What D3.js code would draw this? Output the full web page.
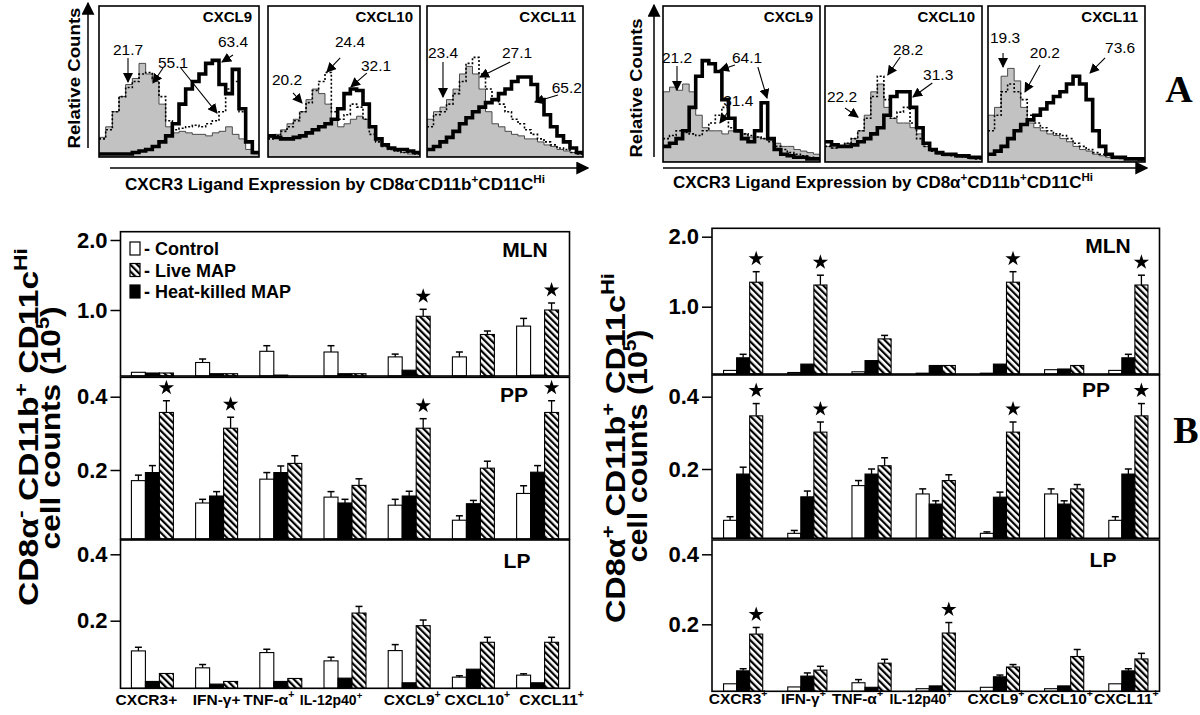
<!DOCTYPE html>
<html><head><meta charset="utf-8">
<script src="https://cdn.jsdelivr.net/npm/d3@7"></script>
<style>
body{margin:0;background:#fff}
svg{display:block;font-family:"Liberation Sans",Arial,Helvetica,sans-serif}
</style>
</head><body>
<svg id="c" width="1200" height="715"></svg>
<script>
// ================= DATA =================
// Panel A: histogram titles
const histTitles = ["CXCL9", "CXCL10", "CXCL11"];
// Panel A, CD8α− (left) histograms: relative counts per bin (24 bins)
const aL9Gray   = [0.13,0.2,0.3,0.4,0.48,0.52,0.62,0.55,0.5,0.35,0.2,0.16,0.17,0.16,0.15,0.15,0.14,0.16,0.17,0.2,0.15,0.12,0.05,0.02];
const aL9Dot    = [0.12,0.18,0.3,0.4,0.46,0.5,0.55,0.56,0.52,0.4,0.24,0.18,0.19,0.2,0.21,0.2,0.22,0.24,0.3,0.45,0.5,0.3,0.1,0.03];
const aL9Thick  = [0.02,0.02,0.02,0.02,0.02,0.03,0.04,0.05,0.07,0.1,0.14,0.22,0.35,0.45,0.5,0.55,0.62,0.64,0.48,0.42,0.58,0.32,0.1,0.03];
const aL10Gray  = [0.13,0.15,0.18,0.22,0.25,0.3,0.38,0.45,0.42,0.35,0.25,0.2,0.22,0.25,0.27,0.25,0.2,0.12,0.08,0.05,0.04,0.03,0.02,0.02];
const aL10Dot   = [0.12,0.14,0.17,0.2,0.24,0.3,0.36,0.44,0.5,0.56,0.3,0.25,0.28,0.35,0.33,0.25,0.15,0.1,0.07,0.05,0.04,0.03,0.03,0.02];
const aL10Thick = [0.14,0.13,0.12,0.12,0.13,0.14,0.16,0.18,0.2,0.22,0.25,0.32,0.42,0.45,0.44,0.35,0.2,0.12,0.08,0.06,0.05,0.05,0.04,0.03];
const aL11Gray  = [0.25,0.3,0.33,0.38,0.45,0.55,0.6,0.55,0.45,0.3,0.22,0.2,0.17,0.15,0.14,0.12,0.12,0.1,0.08,0.07,0.05,0.04,0.03,0.02];
const aL11Dot   = [0.2,0.28,0.3,0.35,0.42,0.5,0.62,0.66,0.55,0.45,0.38,0.35,0.3,0.25,0.22,0.18,0.15,0.12,0.1,0.08,0.06,0.05,0.03,0.02];
const aL11Thick = [0.05,0.07,0.1,0.13,0.17,0.22,0.26,0.3,0.33,0.36,0.38,0.42,0.45,0.5,0.53,0.53,0.48,0.38,0.28,0.2,0.14,0.1,0.06,0.03];
// Panel A, CD8α+ (right) histograms
const aR9Gray   = [0.45,0.48,0.46,0.5,0.45,0.3,0.22,0.2,0.2,0.18,0.2,0.19,0.18,0.16,0.16,0.15,0.14,0.12,0.1,0.1,0.08,0.07,0.06,0.05];
const aR9Dot    = [0.15,0.17,0.2,0.19,0.18,0.17,0.2,0.25,0.3,0.35,0.22,0.2,0.18,0.17,0.16,0.15,0.13,0.1,0.08,0.06,0.05,0.04,0.03,0.02];
const aR9Thick  = [0.1,0.12,0.15,0.2,0.35,0.55,0.65,0.63,0.58,0.4,0.28,0.2,0.15,0.13,0.2,0.38,0.15,0.08,0.05,0.04,0.03,0.03,0.02,0.02];
const aR10Gray  = [0.1,0.09,0.1,0.12,0.15,0.2,0.3,0.45,0.5,0.35,0.28,0.25,0.25,0.22,0.18,0.1,0.07,0.05,0.04,0.04,0.03,0.03,0.02,0.02];
const aR10Dot   = [0.1,0.09,0.1,0.12,0.15,0.2,0.28,0.42,0.55,0.4,0.28,0.32,0.35,0.25,0.15,0.1,0.07,0.06,0.05,0.04,0.04,0.03,0.03,0.02];
const aR10Thick = [0.13,0.11,0.1,0.1,0.11,0.13,0.15,0.18,0.22,0.3,0.42,0.45,0.45,0.35,0.22,0.12,0.08,0.06,0.05,0.05,0.04,0.04,0.03,0.03];
const aR11Gray  = [0.3,0.35,0.55,0.6,0.52,0.35,0.25,0.22,0.2,0.18,0.17,0.15,0.13,0.1,0.08,0.07,0.05,0.04,0.03,0.03,0.02,0.02,0.02,0.01];
const aR11Dot   = [0.2,0.3,0.45,0.5,0.45,0.4,0.3,0.25,0.22,0.2,0.18,0.17,0.15,0.12,0.1,0.08,0.06,0.05,0.04,0.03,0.03,0.02,0.02,0.01];
const aR11Thick = [0.05,0.07,0.1,0.15,0.2,0.24,0.27,0.3,0.34,0.38,0.42,0.45,0.5,0.55,0.5,0.4,0.2,0.1,0.05,0.03,0.03,0.02,0.02,0.02];
// Percent annotations: [text, textBin, textLevel, arrowFromBin, arrowFromLevel, arrowToBin, arrowToLevel]
const annL9  = [["21.7",4.35,0.71,4.35,0.656,4.35,0.497],["55.1",11.1,0.629,9.6,0.589,8.1,0.49],["",0,0,12.15,0.596,17.7,0.291],["63.4",20.1,0.762,20.1,0.675,18.45,0.629]];
const annL10 = [["20.2",3.0,0.51,3.95,0.424,5.37,0.358],["24.4",12.95,0.762,11.4,0.656,9.3,0.563],["32.1",17.05,0.603,15.6,0.556,13.1,0.464]];
const annL11 = [["23.4",2.46,0.689,2.46,0.629,2.46,0.397],["27.1",13.85,0.689,12.8,0.629,8.15,0.53],["65.2",21.5,0.457,20.15,0.41,16.6,0.364]];
const annR9  = [["21.2",2.14,0.667,2.14,0.615,2.14,0.462],["64.1",12.84,0.673,11.0,0.622,8.7,0.59],["",0,0,14.5,0.609,15.9,0.41],["31.4",11.5,0.397,9.8,0.314,8.7,0.25]];
const annR10 = [["22.2",2.6,0.417,3.06,0.346,5.05,0.288],["28.2",12.7,0.718,11.5,0.673,9.6,0.558],["31.3",17.3,0.558,16.4,0.506,13.45,0.417]];
const annR11 = [["19.3",2.6,0.801,2.3,0.699,2.3,0.609],["20.2",8.7,0.699,7.95,0.622,5.66,0.449],["73.6",20.2,0.731,17.9,0.667,15.6,0.571]];

// Panel B categories and tick labels
const cats = ["CXCR3","IFN-γ","TNF-α","IL-12p40","CXCL9","CXCL10","CXCL11"];
const leftCatBase  = ["CXCR3+","IFN-γ+","TNF-α","IL-12p40","CXCL9","CXCL10","CXCL11"];
const leftCatSup   = ["","","+","+","+","+","+"];
const rightCatBase = ["CXCR3","IFN-γ","TNF-α","IL-12p40","CXCL9","CXCL10","CXCL11"];
const rightCatSup  = ["+","+","+","+","+","+","+"];
const legendNames = ["Control","Live MAP","Heat-killed MAP"];
const panelNames = ["MLN","PP","LP"];
const mlnTicks = [1.0, 2.0];
const ppTicks  = [0.2, 0.4];
const lpTicks  = [0.2, 0.4];

// Left B: CD8α− CD11b+ CD11c-Hi (values ×10^5); *Err = top of error bar
const lMlnCtrl    = [0.11,0.25,0.41,0.40,0.33,0.33,0.77];
const lMlnCtrlErr = [0.11,0.30,0.49,0.49,0.37,0.40,0.88];
const lMlnHk      = [0.10,0.09,0.07,0.09,0.14,0.06,0.07];
const lMlnHkErr   = [0.10,0.09,0.07,0.09,0.14,0.06,0.07];
const lMlnLive    = [0.10,0.09,0.06,0.09,0.91,0.65,1.00];
const lMlnLiveErr = [0.10,0.09,0.06,0.09,1.01,0.70,1.10];
const lMlnStars   = [4,6];
const lPpCtrl     = [0.171,0.110,0.175,0.126,0.104,0.063,0.136];
const lPpCtrlErr  = [0.186,0.120,0.193,0.141,0.120,0.075,0.157];
const lPpHk       = [0.193,0.129,0.193,0.110,0.129,0.108,0.194];
const lPpHkErr    = [0.212,0.141,0.211,0.120,0.142,0.117,0.212];
const lPpLive     = [0.357,0.314,0.218,0.158,0.314,0.205,0.357];
const lPpLiveErr  = [0.389,0.344,0.239,0.176,0.340,0.224,0.389];
const lPpStars    = [0,1,4,6];
const lLpCtrl     = [0.109,0.058,0.104,0.079,0.110,0.030,0.036];
const lLpCtrlErr  = [0.120,0.068,0.114,0.090,0.128,0.034,0.040];
const lLpHk       = [0.017,0.009,0.017,0.027,0.013,0.054,0.013];
const lLpHkErr    = [0.017,0.009,0.017,0.027,0.013,0.054,0.013];
const lLpLive     = [0.041,0.017,0.026,0.223,0.185,0.135,0.135];
const lLpLiveErr  = [0.041,0.017,0.026,0.243,0.202,0.150,0.150];
const lLpStars    = [];

// Right B: CD8α+ CD11b+ CD11c-Hi
const rMlnCtrl    = [0.09,0.06,0.07,0.05,0.05,0.10,0.09];
const rMlnCtrlErr = [0.09,0.06,0.07,0.05,0.05,0.10,0.09];
const rMlnHk      = [0.27,0.18,0.23,0.16,0.18,0.11,0.27];
const rMlnHkErr   = [0.32,0.18,0.23,0.16,0.18,0.11,0.32];
const rMlnLive    = [1.35,1.31,0.54,0.16,1.35,0.16,1.31];
const rMlnLiveErr = [1.50,1.45,0.59,0.16,1.50,0.16,1.45];
const rMlnStars   = [0,1,4,6];
const rPpCtrl     = [0.058,0.022,0.154,0.131,0.022,0.131,0.058];
const rPpCtrlErr  = [0.068,0.030,0.168,0.145,0.026,0.145,0.068];
const rPpHk       = [0.186,0.123,0.186,0.103,0.122,0.103,0.186];
const rPpHkErr    = [0.205,0.139,0.200,0.112,0.136,0.112,0.200];
const rPpLive     = [0.347,0.302,0.209,0.168,0.302,0.145,0.347];
const rPpLiveErr  = [0.381,0.330,0.231,0.184,0.330,0.157,0.381];
const rPpStars    = [0,1,4,6];
const rLpCtrl     = [0.030,0.021,0.033,0.016,0.020,0.016,0.030];
const rLpCtrlErr  = [0.030,0.021,0.042,0.016,0.020,0.016,0.030];
const rLpHk       = [0.067,0.052,0.020,0.024,0.050,0.024,0.067];
const rLpHkErr    = [0.073,0.061,0.020,0.024,0.055,0.024,0.073];
const rLpLive     = [0.172,0.069,0.089,0.175,0.078,0.108,0.101];
const rLpLiveErr  = [0.191,0.080,0.100,0.205,0.085,0.128,0.117];
const rLpStars    = [0,3];

// ================= DRAWING =================
const svg = d3.select("#c");
const defs = svg.append("defs");
const pat = defs.append("pattern").attr("id","hatch").attr("patternUnits","userSpaceOnUse")
  .attr("width",4.8).attr("height",4.8).attr("patternTransform","rotate(-45)");
pat.append("rect").attr("width",4.8).attr("height",4.8).attr("fill","#fff");
pat.append("rect").attr("width",2.2).attr("height",4.8).attr("fill","#000");
function marker(id, s){
  defs.append("marker").attr("id",id).attr("viewBox","0 0 10 10").attr("refX",9).attr("refY",5)
    .attr("markerWidth",s).attr("markerHeight",s).attr("markerUnits","userSpaceOnUse").attr("orient","auto")
    .append("path").attr("d","M0,0L10,5L0,10Z").attr("fill","#000");
}
marker("ah",10); marker("ahBig",13);

// rich text with superscripts
function rich(sel, parts, fs){
  const shift = fs*0.42;
  let up = false;
  parts.forEach(([s, sup])=>{
    if(!s) return;
    const t = sel.append("tspan").text(s);
    if(sup){ t.attr("font-size", fs*0.68); if(!up){t.attr("dy", -shift); up=true;} }
    else { if(up){ t.attr("dy", shift); up=false; } }
  });
  return sel;
}
function fit(sel, len){ sel.attr("textLength", len).attr("lengthAdjust","spacingAndGlyphs"); return sel; }

// ---------- Panel A ----------
function drawHist(bx0, bx1, top, bottom, title, gray, dot, thick, ann, id){
  const g = svg.append("g");
  const x = d3.scaleLinear().domain([0, gray.length]).range([bx0, bx1]);
  const y = d3.scaleLinear().domain([0, 1]).range([bottom, top]);
  defs.append("clipPath").attr("id","clip"+id).append("rect")
    .attr("x",bx0).attr("y",top).attr("width",bx1-bx0).attr("height",bottom-top);
  const cg = g.append("g").attr("clip-path","url(#clip"+id+")");
  const ext = a => a.concat([a[a.length-1]]);
  const area = d3.area().curve(d3.curveStepAfter).x((d,i)=>x(i)).y0(bottom).y1(d=>y(d));
  const line = d3.line().curve(d3.curveStepAfter).x((d,i)=>x(i)).y(d=>y(d));
  cg.append("path").datum(ext(gray)).attr("d",area).attr("fill","#c2c2c2").attr("stroke","#3a3a3a").attr("stroke-width",0.9);
  cg.append("path").datum(ext(dot)).attr("d",line).attr("fill","none").attr("stroke","#000").attr("stroke-width",1.6).attr("stroke-dasharray","2,2");
  cg.append("path").datum(ext(thick)).attr("d",line).attr("fill","none").attr("stroke","#000").attr("stroke-width",3.6);
  g.append("rect").attr("x",bx0).attr("y",top).attr("width",bx1-bx0).attr("height",bottom-top)
    .attr("fill","none").attr("stroke","#000").attr("stroke-width",1.6);
  g.append("text").attr("x",bx1-7).attr("y",top+16).attr("text-anchor","end")
    .attr("font-weight","bold").attr("font-size",15).text(title);
  ann.forEach(a=>{
    if(a[0]) g.append("text").attr("x",x(a[1])).attr("y",y(a[2])).attr("text-anchor","middle")
      .attr("dominant-baseline","central").attr("font-size",15.5).text(a[0]);
    g.append("line").attr("x1",x(a[3])).attr("y1",y(a[4])).attr("x2",x(a[5])).attr("y2",y(a[6]))
      .attr("stroke","#000").attr("stroke-width",1.1).attr("marker-end","url(#ah)");
  });
}
drawHist(99,259,6,157,histTitles[0],aL9Gray,aL9Dot,aL9Thick,annL9,"l9");
drawHist(268,420,6,157,histTitles[1],aL10Gray,aL10Dot,aL10Thick,annL10,"l10");
drawHist(427,583,6,157,histTitles[2],aL11Gray,aL11Dot,aL11Thick,annL11,"l11");
drawHist(663,820,6,162,histTitles[0],aR9Gray,aR9Dot,aR9Thick,annR9,"r9");
drawHist(825,982,6,162,histTitles[1],aR10Gray,aR10Dot,aR10Thick,annR10,"r10");
drawHist(988,1145,6,162,histTitles[2],aR11Gray,aR11Dot,aR11Thick,annR11,"r11");

// axes arrows & labels for A
function arrowLine(x1,y1,x2,y2){
  svg.append("line").attr("x1",x1).attr("y1",y1).attr("x2",x2).attr("y2",y2)
    .attr("stroke","#000").attr("stroke-width",1.5).attr("marker-end","url(#ahBig)");
}
arrowLine(88,148,88,3); arrowLine(654,157,654,5);
arrowLine(110,168,588,168); arrowLine(663,168,1147,168);
fit(svg.append("text").attr("transform","translate(80,78) rotate(-90)").attr("text-anchor","middle")
  .attr("font-weight","bold").attr("font-size",17).text("Relative Counts"),141);
fit(svg.append("text").attr("transform","translate(642,88) rotate(-90)").attr("text-anchor","middle")
  .attr("font-weight","bold").attr("font-size",17).text("Relative Counts"),139);
fit(rich(svg.append("text").attr("x",125).attr("y",190).attr("font-weight","bold").attr("font-size",16.5),
  [["CXCR3 Ligand Expression by CD8α",0],["-",1],["CD11b",0],["+",1],["CD11C",0],["Hi",1]],16.5),420);
fit(rich(svg.append("text").attr("x",673).attr("y",188).attr("font-weight","bold").attr("font-size",16.5),
  [["CXCR3 Ligand Expression by CD8α",0],["+",1],["CD11b",0],["+",1],["CD11C",0],["Hi",1]],16.5),420);
svg.append("text").attr("x",1179).attr("y",102).attr("text-anchor","middle")
  .attr("font-family","'Liberation Serif','Times New Roman',serif").attr("font-weight","bold").attr("font-size",38).text("A");
svg.append("text").attr("x",1186).attr("y",443).attr("text-anchor","middle")
  .attr("font-family","'Liberation Serif','Times New Roman',serif").attr("font-weight","bold").attr("font-size",38).text("B");

// ---------- Panel B ----------
function drawPanel(cfg){
  const {x0,x1,top,bottom,ticks,tickPos,series,stars,name,nameX,nameY,pi,po} = cfg;
  const g = svg.append("g");
  const x = d3.scaleBand().domain(cats).range([x0,x1]).paddingInner(pi).paddingOuter(po);
  const xs = d3.scaleBand().domain(["ctrl","hk","live"]).range([0,x.bandwidth()]);
  const y = d3.scaleLinear().domain(ticks).range(tickPos);
  const fills = {ctrl:"#fff", hk:"#000", live:"url(#hatch)"};
  series.forEach(([key, vals, errs])=>{
    cats.forEach((c,i)=>{
      const v = vals[i];
      const yt = Math.max(top, Math.min(bottom, y(v)));
      const bx = x(c)+xs(key), bw = xs.bandwidth();
      if(bottom-yt > 0.3)
        g.append("rect").attr("x",bx).attr("y",yt).attr("width",bw).attr("height",bottom-yt)
          .attr("fill",fills[key]).attr("stroke","#000").attr("stroke-width",1.1);
      if(errs[i] > v){
        const ye = y(errs[i]), cx = bx+bw/2;
        g.append("line").attr("x1",cx).attr("x2",cx).attr("y1",yt).attr("y2",ye).attr("stroke","#000").attr("stroke-width",1.3);
        g.append("line").attr("x1",cx-3.5).attr("x2",cx+3.5).attr("y1",ye).attr("y2",ye).attr("stroke","#000").attr("stroke-width",1.5);
      }
    });
  });
  const live = series.find(s=>s[0]==="live");
  stars.forEach(i=>{
    const c = cats[i];
    const cx = x(c)+xs("live")+xs.bandwidth()/2;
    const ye = y(Math.max(live[1][i], live[2][i]));
    g.append("path").attr("d", d3.symbol(d3.symbolStar, 72)())
      .attr("transform",`translate(${cx},${ye-13})`).attr("fill","#000");
  });
  g.append("rect").attr("x",x0).attr("y",top).attr("width",x1-x0).attr("height",bottom-top)
    .attr("fill","none").attr("stroke","#000").attr("stroke-width",1.6);
  const ax = g.append("g").attr("transform",`translate(${x0},0)`)
    .call(d3.axisLeft(y).tickValues(ticks).tickSize(10).tickPadding(3).tickFormat(d3.format(".1f")));
  ax.select(".domain").remove();
  ax.selectAll(".tick line").attr("stroke","#000").attr("stroke-width",1.5);
  ax.selectAll(".tick text").attr("font-family","'Liberation Sans',Arial,sans-serif")
    .attr("font-weight","bold").attr("font-size",22).attr("fill","#000");
  g.append("text").attr("x",nameX).attr("y",nameY).attr("text-anchor","middle")
    .attr("font-weight","bold").attr("font-size",21).text(name);
  return x;
}
function sideSeries(c,ce,h,he,l,le){ return [["ctrl",c,ce],["hk",h,he],["live",l,le]]; }

// left side
const L = {x0:120.5, x1:569.5, pi:0.346, po:0.17};
drawPanel({...L, top:231.7, bottom:376, ticks:mlnTicks, tickPos:[310,240],
  series:sideSeries(lMlnCtrl,lMlnCtrlErr,lMlnHk,lMlnHkErr,lMlnLive,lMlnLiveErr), stars:lMlnStars,
  name:panelNames[0], nameX:525, nameY:257});
drawPanel({...L, top:377.3, bottom:539, ticks:ppTicks, tickPos:[470,396.7],
  series:sideSeries(lPpCtrl,lPpCtrlErr,lPpHk,lPpHkErr,lPpLive,lPpLiveErr), stars:lPpStars,
  name:panelNames[1], nameX:514, nameY:402});
const xL = drawPanel({...L, top:540, bottom:688.3, ticks:lpTicks, tickPos:[620.7,554.3],
  series:sideSeries(lLpCtrl,lLpCtrlErr,lLpHk,lLpHkErr,lLpLive,lLpLiveErr), stars:lLpStars,
  name:panelNames[2], nameX:517, nameY:568});
// right side
const R = {x0:712, x1:1159.5, pi:0.39, po:0.18};
drawPanel({...R, top:228.3, bottom:374, ticks:mlnTicks, tickPos:[306.7,236.7],
  series:sideSeries(rMlnCtrl,rMlnCtrlErr,rMlnHk,rMlnHkErr,rMlnLive,rMlnLiveErr), stars:rMlnStars,
  name:panelNames[0], nameX:1108, nameY:253});
drawPanel({...R, top:375, bottom:538.3, ticks:ppTicks, tickPos:[469,396.7],
  series:sideSeries(rPpCtrl,rPpCtrlErr,rPpHk,rPpHkErr,rPpLive,rPpLiveErr), stars:rPpStars,
  name:panelNames[1], nameX:1096, nameY:397});
const xR = drawPanel({...R, top:540, bottom:691.3, ticks:lpTicks, tickPos:[624.3,554.3],
  series:sideSeries(rLpCtrl,rLpCtrlErr,rLpHk,rLpHkErr,rLpLive,rLpLiveErr), stars:rLpStars,
  name:panelNames[2], nameX:1103, nameY:567});

// category labels
const shiftL = [-6,0,-12,-14,3,4,14], shiftR = [-5,-4,-14,-15,-4,-4,-2];
function catLabels(x, base, sup, shifts, yb){
  cats.forEach((c,i)=>{
    const fs = c==="IL-12p40" ? 14 : 15.5;
    rich(svg.append("text").attr("x", x(c)+x.bandwidth()/2+shifts[i]).attr("y",yb)
      .attr("text-anchor","middle").attr("font-weight","bold").attr("font-size",fs),
      [[base[i],0],[sup[i],1]], fs);
  });
}
catLabels(xL, leftCatBase, leftCatSup, shiftL, 705);
catLabels(xR, rightCatBase, rightCatSup, shiftR, 704);

// legend
const legFill = ["#fff","url(#hatch)","#000"];
legendNames.forEach((n,i)=>{
  const yb = 255 + i*21.5;
  svg.append("rect").attr("x",130).attr("y",yb-13).attr("width",10).attr("height",13)
    .attr("fill",legFill[i]).attr("stroke","#000").attr("stroke-width",1.2);
  svg.append("text").attr("x",144).attr("y",yb).attr("font-weight","bold").attr("font-size",18).text("- "+n);
});

// y titles
function yTitle(bx1, bx2, cy1, cy2, sign, len1, len2){
  fit(rich(svg.append("text").attr("transform",`translate(${bx1},${cy1}) rotate(-90)`).attr("text-anchor","middle")
    .attr("font-weight","bold").attr("font-size",27),
    [["CD8α",0],[sign,1],[" CD11b",0],["+",1],[" CD11c",0],["Hi",1]],27), len1);
  fit(rich(svg.append("text").attr("transform",`translate(${bx2},${cy2}) rotate(-90)`).attr("text-anchor","middle")
    .attr("font-weight","bold").attr("font-size",27),
    [["cell counts (10",0],["5",1],[")",0]],27), len2);
}
yTitle(38, 60, 427, 428, "-", 358, 243);
yTitle(625, 647, 448, 446, "+", 350, 233);
</script>
</body></html>
